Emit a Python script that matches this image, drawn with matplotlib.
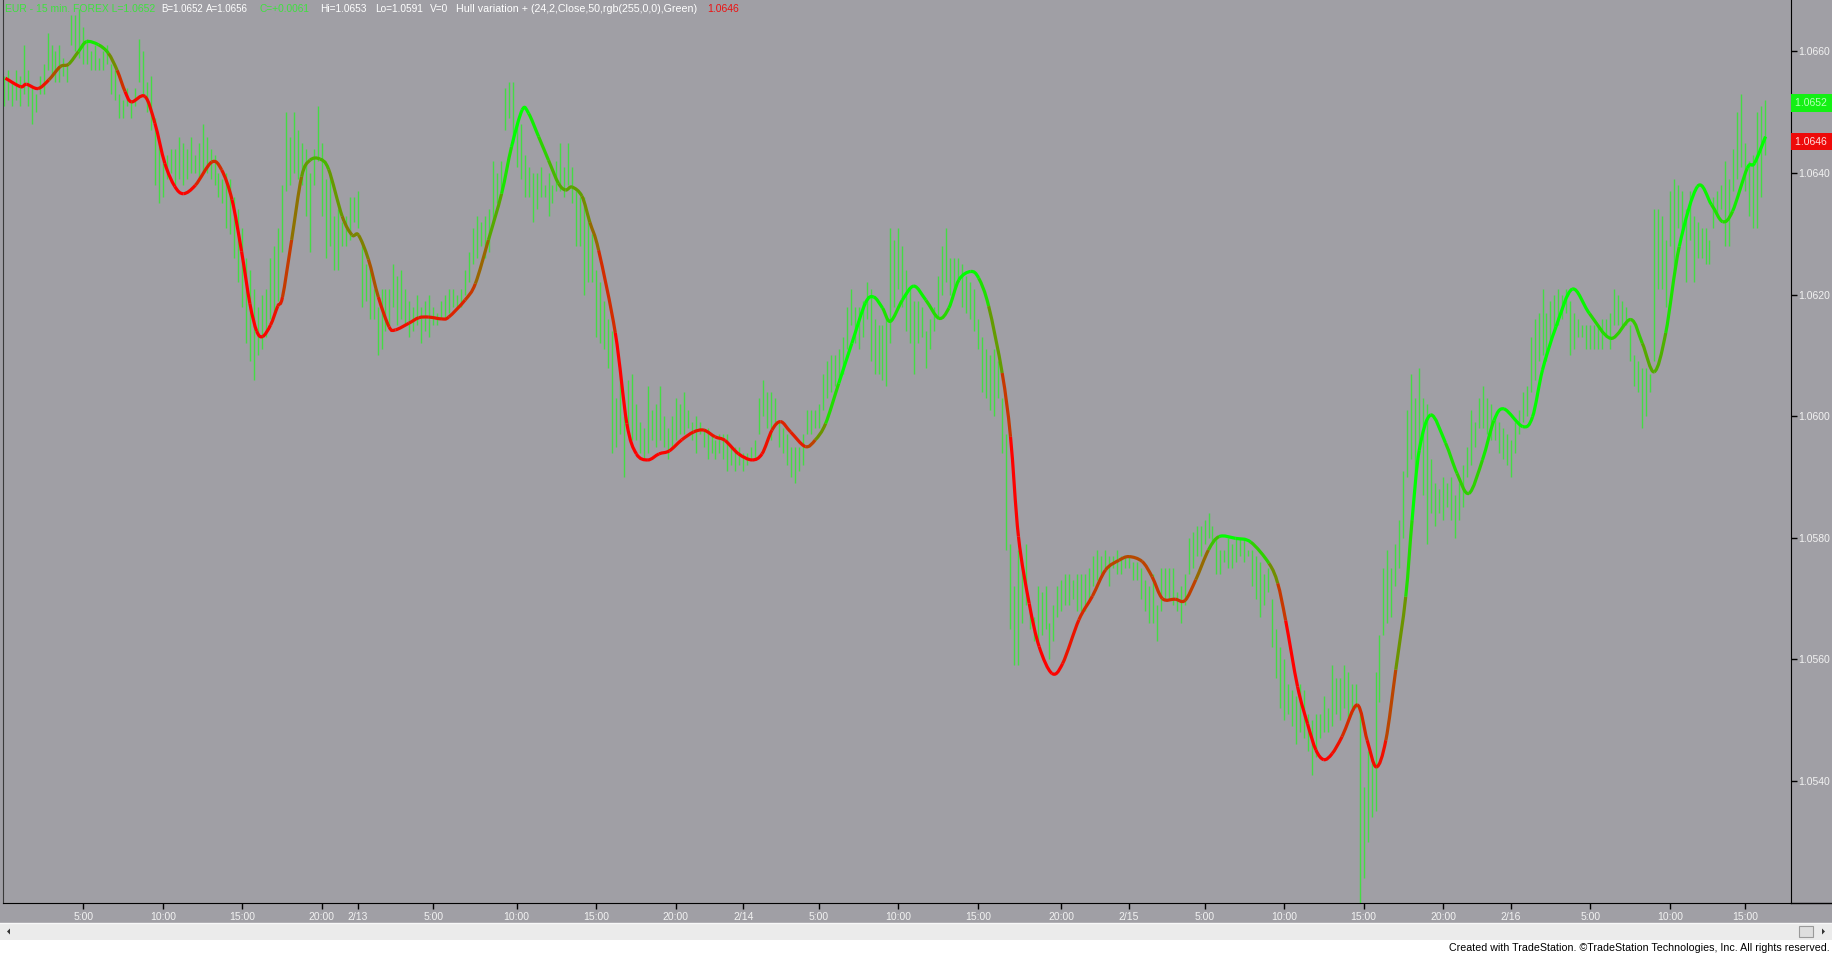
import numpy as np
import matplotlib
matplotlib.use("Agg")
from matplotlib import pyplot as plt
from matplotlib.path import Path
from matplotlib.patches import Rectangle, Polygon, PathPatch
from matplotlib.lines import Line2D

# prices are stored as pips above 1.0500
BASE = 1.05
PIP = 0.0001

bar_hi = [
    156, 157, 155, 157, 156, 161, 157, 154, 153, 156,
    158, 163, 161, 160, 161, 159, 158, 166, 166, 167,
    164, 162, 160, 161, 159, 160, 161, 158, 157, 153,
    152, 154, 152, 154, 162, 160, 155, 156, 149, 145,
    142, 143, 144, 144, 146, 145, 144, 146, 143, 145,
    148, 146, 144, 143, 140, 139, 140, 139, 136, 134,
    131, 126, 124, 121, 118, 120, 121, 126, 128, 131,
    138, 150, 146, 150, 147, 145, 144, 140, 144, 151,
    145, 139, 140, 133, 134, 132, 133, 136, 136, 137,
    128, 125, 125, 121, 118, 121, 121, 121, 125, 123,
    124, 121, 119, 118, 120, 118, 119, 120, 118, 117,
    119, 120, 121, 121, 120, 121, 124, 127, 131, 133,
    132, 133, 134, 142, 140, 142, 154, 155, 155, 148,
    148, 143, 141, 140, 140, 141, 138, 140, 138, 142,
    145, 141, 145, 141, 137, 136, 136, 133, 130, 124,
    122, 119, 116, 114, 103, 107, 100, 106, 107, 102,
    99, 98, 105, 101, 102, 105, 100, 98, 100, 103,
    102, 104, 101, 99, 100, 99, 98, 98, 97, 96,
    97, 97, 97, 95, 95, 95, 94, 94, 95, 96,
    103, 106, 104, 104, 103, 99, 98, 97, 95, 95,
    95, 97, 101, 101, 101, 102, 107, 109, 110, 110,
    111, 113, 118, 121, 118, 118, 119, 122, 121, 116,
    115, 115, 116, 131, 129, 131, 128, 124, 121, 119,
    119, 118, 114, 116, 118, 123, 128, 131, 126, 126,
    126, 125, 123, 122, 121, 116, 113, 111, 110, 111,
    109, 103, 97, 79, 72, 78, 76, 79, 68, 67,
    72, 71, 72, 66, 69, 72, 73, 74, 74, 73,
    74, 74, 74, 75, 77, 78, 77, 78, 77, 77,
    78, 77, 77, 77, 76, 76, 75, 73, 72, 74,
    69, 75, 75, 75, 75, 71, 72, 74, 80, 81,
    82, 82, 83, 84, 82, 80, 78, 78, 80, 79,
    80, 80, 80, 78, 78, 77, 76, 74, 75, 70,
    65, 62, 60, 56, 55, 54, 56, 55, 51, 50,
    51, 51, 54, 52, 59, 57, 57, 59, 58, 56,
    56, 52, 39, 45, 43, 58, 64, 75, 78, 75,
    79, 83, 91, 101, 107, 103, 108, 103, 102, 93,
    89, 88, 90, 89, 90, 87, 89, 92, 95, 101,
    99, 103, 105, 103, 102, 100, 99, 98, 97, 96,
    99, 101, 104, 105, 113, 116, 117, 121, 117, 119,
    120, 121, 120, 121, 119, 117, 116, 115, 115, 115,
    115, 115, 116, 116, 117, 121, 120, 119, 118, 115,
    110, 109, 108, 108, 107, 134, 134, 133, 129, 137,
    139, 138, 137, 134, 137, 133, 132, 131, 131, 129,
    136, 137, 138, 142, 139, 144, 150, 153, 145, 142,
    143, 150, 151, 152,
]

bar_lo = [
    151, 152, 151, 152, 151, 153, 151, 148, 150, 153,
    153, 157, 156, 155, 155, 156, 155, 161, 160, 159,
    158, 158, 157, 157, 157, 157, 158, 153, 152, 149,
    149, 151, 149, 151, 155, 153, 150, 147, 138, 135,
    136, 139, 140, 138, 139, 138, 139, 140, 140, 139,
    140, 140, 139, 138, 136, 135, 131, 130, 126, 122,
    118, 112, 109, 106, 110, 111, 113, 116, 117, 119,
    127, 137, 138, 140, 139, 138, 133, 127, 138, 142,
    133, 126, 128, 124, 124, 128, 128, 129, 132, 131,
    118, 119, 116, 116, 110, 111, 114, 115, 118, 115,
    116, 115, 113, 114, 115, 112, 114, 113, 115, 115,
    116, 116, 117, 118, 118, 118, 120, 122, 125, 126,
    128, 126, 127, 132, 135, 137, 147, 149, 145, 141,
    139, 136, 136, 132, 134, 136, 136, 133, 135, 137,
    137, 136, 138, 135, 128, 128, 120, 122, 122, 113,
    112, 111, 108, 94, 95, 97, 90, 98, 96, 96,
    94, 93, 94, 96, 95, 96, 95, 93, 95, 96,
    97, 97, 98, 96, 94, 97, 95, 93, 94, 93,
    94, 93, 91, 92, 91, 92, 91, 92, 93, 93,
    97, 100, 98, 96, 99, 95, 94, 92, 90, 89,
    91, 92, 97, 97, 98, 98, 101, 103, 104, 105,
    106, 107, 111, 115, 112, 111, 113, 116, 109, 107,
    107, 106, 105, 112, 118, 121, 118, 114, 112, 107,
    112, 113, 108, 111, 114, 116, 120, 122, 120, 121,
    122, 118, 117, 116, 114, 111, 104, 103, 101, 100,
    103, 94, 78, 65, 59, 59, 66, 69, 65, 63,
    63, 64, 65, 60, 63, 67, 68, 69, 69, 70,
    68, 68, 68, 70, 72, 73, 74, 75, 72, 75,
    74, 74, 75, 75, 73, 73, 70, 68, 66, 66,
    63, 68, 70, 70, 69, 68, 66, 69, 74, 75,
    77, 77, 79, 80, 79, 74, 74, 76, 75, 75,
    76, 77, 76, 77, 72, 70, 67, 69, 71, 62,
    57, 52, 50, 51, 49, 46, 48, 47, 45, 41,
    44, 47, 48, 48, 49, 51, 50, 52, 50, 51,
    52, 20, 24, 30, 34, 35, 53, 64, 66, 67,
    72, 75, 80, 90, 93, 91, 95, 87, 79, 84,
    82, 84, 83, 85, 83, 80, 83, 85, 90, 92,
    95, 98, 98, 97, 96, 96, 94, 93, 92, 90,
    94, 97, 99, 100, 104, 106, 109, 110, 109, 112,
    114, 115, 116, 117, 110, 111, 113, 113, 111, 111,
    111, 111, 111, 113, 111, 115, 115, 115, 115, 109,
    105, 104, 98, 100, 104, 109, 121, 121, 118, 128,
    124, 131, 130, 122, 129, 122, 126, 126, 125, 125,
    131, 133, 134, 128, 128, 137, 139, 141, 137, 133,
    131, 131, 136, 143,
]

hull_bar = [
    0.4, 4.2, 5.7, 8.6, 11.3, 14.2, 16.3, 18.8, 20.8, 23.8,
    26.3, 28.5, 30.5, 32.1, 35.5, 38.0, 40.5, 43.0, 45.2, 48.2,
    52.3, 54.8, 57.4, 59.8, 61.9, 63.6, 65.1, 67.1, 68.9, 70.1,
    72.4, 74.9, 77.0, 79.5, 81.7, 85.1, 87.6, 89.2, 91.7, 94.2,
    96.9, 98.5, 101.9, 104.4, 106.9, 110.2, 111.9, 116.0, 118.6, 121.9,
    125.2, 127.7, 130.4, 132.0, 134.5, 137.0, 139.5, 141.3, 142.9, 145.4,
    147.4, 149.6, 153.8, 156.7, 159.1, 162.0, 164.8, 167.4, 170.5, 173.5,
    176.1, 178.9, 181.4, 184.8, 188.2, 190.7, 193.2, 195.4, 197.9, 201.6,
    204.1, 206.7, 210.0, 213.3, 216.7, 218.8, 221.0, 223.0, 226.0, 228.9,
    231.9, 235.2, 237.7, 240.2, 243.2, 245.2, 247.7, 251.1, 253.2, 255.2,
    257.9, 260.4, 263.6, 266.3, 270.4, 273.8, 277.1, 280.5, 283.0, 286.3,
    288.8, 291.4, 294.6, 297.1, 299.8, 303.0, 305.7, 309.8, 313.6, 318.2,
    320.4, 322.4, 325.4, 327.9, 330.0, 332.0, 334.1, 336.6, 340.4, 342.9,
    345.2, 347.6, 350.1, 352.6, 354.2, 356.0, 358.9, 362.6, 365.5, 368.5,
    371.9, 374.8, 377.3, 382.0, 384.5, 387.0, 390.4, 394.5, 398.8, 404.2,
    409.2, 412.1, 415.1, 418.0, 421.4, 426.0, 429.5, 432.3, 434.8, 438.5,
    440.3, 443.1,
]

hull_pips = [
    155.6, 154.2, 154.6, 153.9, 155.3, 157.5, 157.9, 160.0, 161.6, 161.1,
    159.7, 156.9, 153.4, 151.7, 152.6, 148.2, 141.6, 137.8, 136.6, 138.0,
    141.8, 140.5, 135.6, 127.1, 118.5, 114.0, 113.1, 115.0, 118.1, 119.6,
    129.0, 139.4, 142.1, 142.3, 140.6, 132.9, 129.8, 129.8, 125.8, 119.6,
    114.7, 114.2, 115.3, 116.2, 116.3, 116.0, 116.3, 119.1, 121.8, 129.0,
    136.6, 144.3, 150.4, 149.8, 146.0, 142.1, 138.3, 137.2, 137.7, 136.2,
    131.9, 127.3, 113.7, 98.8, 93.8, 92.8, 93.8, 94.3, 96.1, 97.4,
    97.7, 96.6, 96.0, 93.8, 92.8, 93.8, 97.7, 99.1, 97.4, 95.0,
    96.1, 98.8, 105.4, 112.0, 118.6, 119.6, 117.8, 115.6, 119.1, 121.4,
    119.1, 116.1, 117.8, 122.4, 123.8, 122.7, 118.1, 107.1, 96.6, 80.2,
    69.2, 62.1, 57.7, 59.3, 66.5, 70.4, 74.7, 76.3, 76.9, 76.1,
    73.6, 70.0, 69.9, 69.7, 73.1, 78.0, 80.2, 79.9, 79.3, 75.8,
    72.5, 66.4, 55.5, 49.4, 45.1, 43.5, 44.5, 47.3, 52.5, 46.7,
    42.3, 46.7, 58.3, 70.3, 82.9, 94.4, 100.2, 95.6, 90.6, 87.3,
    92.8, 99.3, 101.2, 98.3, 99.9, 107.6, 114.7, 120.9, 116.9, 112.8,
    115.9, 112.0, 107.3, 113.7, 127.9, 137.8, 134.8, 132.0, 133.7, 140.8,
    141.6, 146.0,
]

tick_bars = [20, 40, 60, 80, 89, 108, 129, 149, 169, 186, 205, 225, 245,
             266, 283, 302, 322, 342, 362, 379, 399, 419, 438]
tick_labels = ["5:00", "10:00", "15:00", "20:00", "2/13", "5:00", "10:00",
               "15:00", "20:00", "2/14", "5:00", "10:00", "15:00", "20:00",
               "2/15", "5:00", "10:00", "15:00", "20:00", "2/16", "5:00",
               "10:00", "15:00"]
price_ticks = [1.0540, 1.0560, 1.0580, 1.0600, 1.0620, 1.0640, 1.0660]

last_close = 1.0652
last_hull = 1.0646

header = [
    ("EUR - 15 min. FOREX L=1.0652", "#3ee23e", 5, 7.5),
    ("B=1.0652", "w", 161, 7.0),
    ("A=1.0656", "w", 205.5, 7.0),
    ("C=+0.0061", "#3ee23e", 260, 7.3),
    ("Hi=1.0653", "w", 320, 7.3),
    ("Lo=1.0591", "w", 375.6, 7.3),
    ("V=0", "w", 430, 7.3),
    ("Hull variation + (24,2,Close,50,rgb(255,0,0),Green)", "w", 455.6, 7.7),
    ("1.0646", "#ee1111", 707, 7.5),
]

W, H = 1833, 955
BG = "#a09fa5"
SANS = ["Liberation Sans", "DejaVu Sans"]


def gradient_t(xs, ys, look=50, min_rng=8 * PIP):
    out = []
    for k in range(len(xs)):
        win = [ys[j] for j in range(k + 1) if xs[j] >= xs[k] - look]
        lo, hi = min(win), max(win)
        rng = max(hi - lo, min_rng)
        out.append(np.clip((ys[k] - lo) / rng, 0, 1))
    return np.array(out)


def draw_hull(ax, xs, ys):
    # smooth bezier pieces, each coloured on the red..green gradient
    t = gradient_t(xs, ys)
    p = np.column_stack([xs, ys])
    n = len(p)
    for k in range(n - 1):
        p0 = p[max(k - 1, 0)]
        p1, p2 = p[k], p[k + 1]
        p3 = p[min(k + 2, n - 1)]
        c1 = p1 + (p2 - p0) / 6
        c2 = p2 - (p3 - p1) / 6
        path = Path([p1, c1, c2, p2], [Path.MOVETO, Path.CURVE4, Path.CURVE4, Path.CURVE4])
        tm = (t[k] + t[k + 1]) / 2
        ax.add_patch(PathPatch(path, fill=False, edgecolor=(1 - tm, tm, 0),
                               lw=2.3, capstyle="butt", joinstyle="round", zorder=3))


def main():
    hi = BASE + np.array(bar_hi) * PIP
    lo = BASE + np.array(bar_lo) * PIP
    idx = np.arange(len(hi))
    hx = np.array(hull_bar)
    hy = BASE + np.array(hull_pips) * PIP

    fig = plt.figure(figsize=(W / 100, H / 100), dpi=100, facecolor=BG)
    ax = fig.add_axes([3 / W, 1 - 903 / H, (1791 - 3) / W, 903 / H])
    ax.set_facecolor(BG)

    ax.vlines(idx, lo, hi, color="#44dc44", lw=1.0, zorder=2)
    draw_hull(ax, hx, hy)

    ax.set_xlim(-0.2, 449.5)
    ax.set_ylim(1.051992, 1.066846)

    ax.spines["top"].set_visible(False)
    ax.spines["left"].set_color("#3a3a3a")
    ax.spines["right"].set_color("black")
    ax.spines["bottom"].set_color("black")

    ax.yaxis.tick_right()
    ax.set_yticks(price_ticks)
    ax.set_yticklabels(["%.4f" % v for v in price_ticks])
    ax.tick_params(axis="y", length=4, width=1, color="black",
                   labelcolor="#f2f2f2", labelsize=7.5, pad=1)
    for lab in ax.get_yticklabels():
        lab.set_family(SANS)

    ax.set_xticks(tick_bars)
    ax.set_xticklabels(tick_labels)
    ax.tick_params(axis="x", length=4, width=1, color="black",
                   labelcolor="#f2f2f2", labelsize=7.5, pad=2.5)
    for lab in ax.get_xticklabels():
        lab.set_family(SANS)

    # last price tags on the scale
    ax.annotate("1.0652 ", xy=(1, last_close), xycoords=("axes fraction", "data"),
                xytext=(4, -3), textcoords="offset pixels", ha="left", va="center",
                fontsize=7.5, color="#b8ffb8", family=SANS, annotation_clip=False,
                bbox=dict(boxstyle="square,pad=0.35", fc="#14f014", ec="none"))
    ax.annotate("%.4f " % last_hull, xy=(1, last_hull), xycoords=("axes fraction", "data"),
                xytext=(4, -5), textcoords="offset pixels", ha="left", va="center",
                fontsize=7.5, color="#ffe0e0", family=SANS, annotation_clip=False,
                bbox=dict(boxstyle="square,pad=0.35", fc="#ee0a0a", ec="none"))

    # bottom line runs on under the price scale
    fig.add_artist(Line2D([1791 / W, 1], [1 - 903 / H] * 2, color="black", lw=1,
                          transform=fig.transFigure))

    # scroll bar and footer
    fig.add_artist(Rectangle((0, 0), 1, 1 - 923 / H, transform=fig.transFigure,
                             facecolor="#ebebeb", edgecolor="none"))
    fig.add_artist(Line2D([0, 1], [1 - 923 / H] * 2, color="#f8f8f8", lw=1,
                          transform=fig.transFigure))
    fig.add_artist(Rectangle((0, 0), 1, 1 - 940 / H, transform=fig.transFigure,
                             facecolor="white", edgecolor="none"))
    fig.add_artist(Rectangle((1799 / W, 1 - 937 / H), 14 / W, 11 / H,
                             transform=fig.transFigure, facecolor="#dedede",
                             edgecolor="#9a9a9a", lw=0.8))
    fig.add_artist(Polygon([[7 / W, 1 - 931.5 / H], [10 / W, 1 - 928.5 / H],
                            [10 / W, 1 - 934.5 / H]], closed=True,
                           transform=fig.transFigure, facecolor="#333333"))
    fig.add_artist(Polygon([[1825 / W, 1 - 931.5 / H], [1822 / W, 1 - 928.5 / H],
                            [1822 / W, 1 - 934.5 / H]], closed=True,
                           transform=fig.transFigure, facecolor="#333333"))
    fig.text(1830 / W, 1 - 948 / H,
             "Created with TradeStation. \u00a9TradeStation Technologies, Inc. All rights reserved.",
             ha="right", va="center", fontsize=7.7, color="black", family=SANS)

    # status line
    for txt, c, x, fs in header:
        fig.text(x / W, 1 - 9.5 / H, txt, ha="left", va="center", fontsize=fs,
                 color=c, family=SANS)

    fig.savefig("out.png", dpi=100, facecolor=BG)


if __name__ == "__main__":
    main()
